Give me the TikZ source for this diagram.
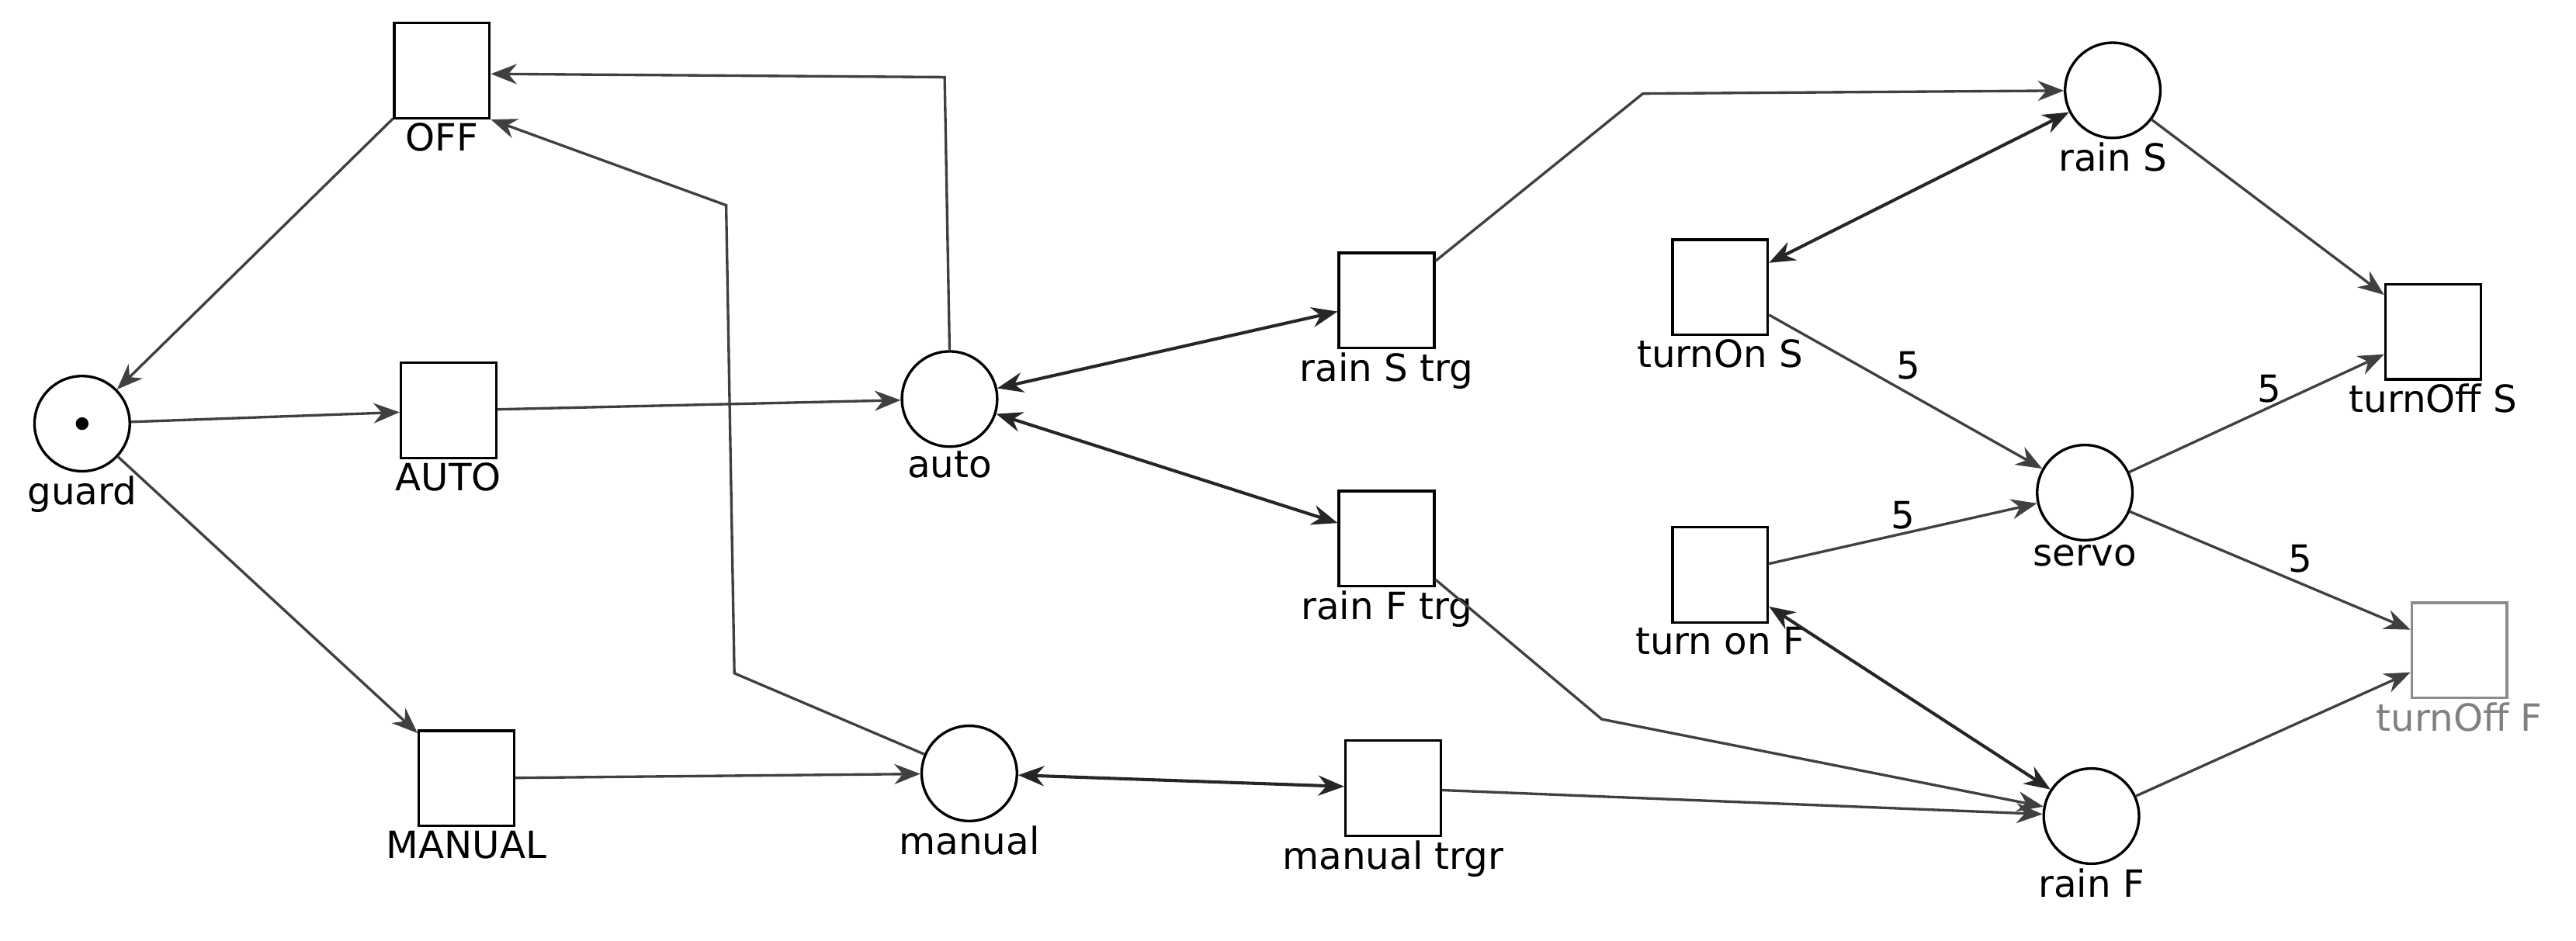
\documentclass[tikz,border=0pt]{standalone}
\usepackage{fontspec}
\setmainfont{DejaVu Sans}
\usetikzlibrary{arrows.meta}
\begin{document}
\begin{tikzpicture}[x=0.02cm,y=-0.02cm,
  every label/.style={font=\fontsize{13}{15}\selectfont,inner sep=1pt},
  tr/.style={draw,line width=0.9pt,minimum size=1.16cm,inner sep=0},
  pl/.style={draw,circle,line width=0.9pt,minimum size=1.16cm,inner sep=0},
  e/.style={draw=black!75,line width=0.9pt,-{Stealth[length=9pt,width=7pt]}},
  ee/.style={draw=black!85,line width=1.1pt,{Stealth[length=9pt,width=7pt]}-{Stealth[length=9pt,width=7pt]}},
  w/.style={font=\fontsize{13}{15}\selectfont,inner sep=1pt}]
\useasboundingbox (0,0) rectangle (1568,573);
\node[tr,label=below:OFF] (OFF) at (269,43) {};
\node[pl,label=below:guard] (guard) at (50,258) {};
\fill (guard) circle (2.2pt);
\node[tr,label=below:AUTO] (AUTO) at (273,250) {};
\node[tr,label=below:MANUAL] (MANUAL) at (284,474) {};
\node[pl,label=below:auto] (auto) at (578,243) {};
\node[pl,label=below:manual] (manual) at (590,471) {};
\node[tr,label=below:rain S trg] (rst) at (844,183) {};
\node[tr,label=below:rain F trg] (rft) at (844,328) {};
\node[tr,label=below:manual trgr] (mt) at (848,480) {};
\node[pl,label=below:rain S] (rainS) at (1286,55) {};
\node[tr,label=below:turnOn S] (tos) at (1047,175) {};
\node[tr,label=below:turn on F] (tof) at (1047,350) {};
\node[pl,label=below:servo] (servo) at (1269,300) {};
\node[pl,label=below:rain F] (rainF) at (1273,497) {};
\node[tr,label=below:turnOff S] (toffS) at (1481,202) {};
\node[tr,draw=black!45,label={[text=black!50]below:turnOff F}] (toffF) at (1497,396) {};
\coordinate (c1) at (575,47);
\coordinate (c2) at (447,410);
\coordinate (c3) at (442,125);
\coordinate (c4) at (1000,57);
\coordinate (c5) at (975,438);
\path[e] (OFF) -- (guard);
\path[e] (guard) -- (AUTO);
\path[e] (guard) -- (MANUAL);
\path[e] (AUTO) -- (auto);
\path[e] (MANUAL) -- (manual);
\path[e] (auto.north) -- (c1) -- (OFF.east |- 0,45);
\path[e] (manual) -- (c2) -- (c3) -- (OFF.south east);
\path[ee] (auto) -- (rst);
\path[ee] (auto) -- (rft);
\path[ee] (manual) -- (mt);
\path[e] (rst) -- (c4) -- (rainS);
\path[e] (rft) -- (c5) -- (rainF);
\path[e] (mt) -- (rainF);
\path[ee] (rainS) -- (tos);
\path[ee] (rainF) -- (tof);
\path[e] (tos) -- node[w,pos=0.45,above right]{5} (servo);
\path[e] (tof) -- node[w,pos=0.5,above]{5} (servo);
\path[e] (rainS) -- (toffS);
\path[e] (servo) -- node[w,pos=0.55,above]{5} (toffS);
\path[e] (servo) -- node[w,pos=0.55,above right]{5} (toffF);
\path[e] (rainF) -- (toffF);
\end{tikzpicture}
\end{document}
